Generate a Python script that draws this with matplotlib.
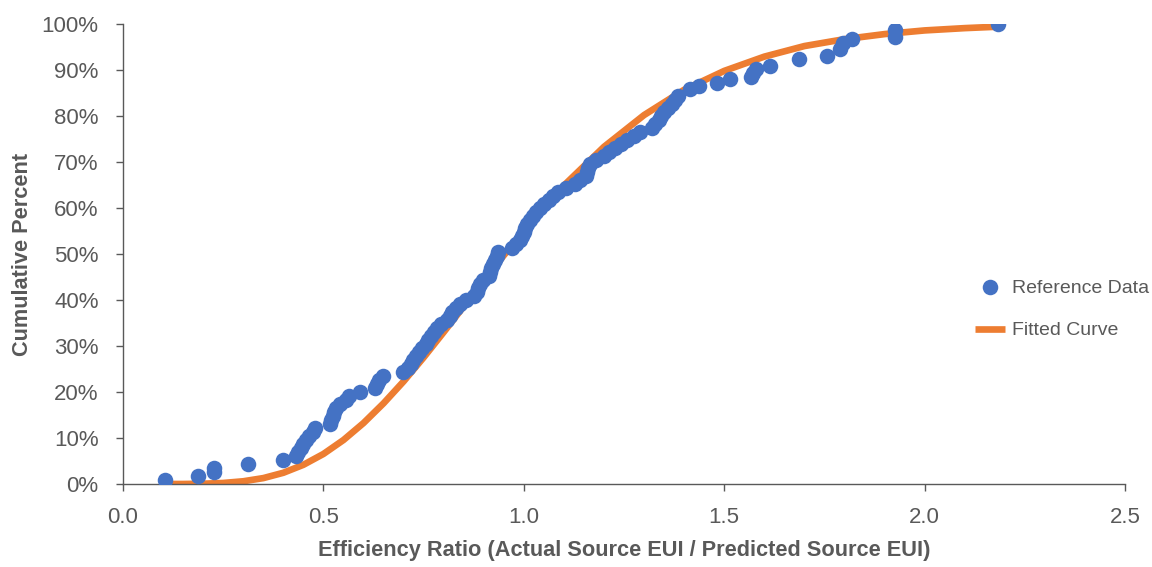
import numpy as np
import matplotlib
matplotlib.use('Agg')
import matplotlib.pyplot as plt
from matplotlib.ticker import FuncFormatter

# Reference data (efficiency ratio, cumulative percent)
ref_ratio = [0.105, 0.187, 0.227, 0.227, 0.312, 0.399, 0.432, 0.437, 0.444, 0.449,
             0.457, 0.464, 0.474, 0.479, 0.517, 0.519, 0.524, 0.527, 0.532, 0.542,
             0.557, 0.564, 0.592, 0.629, 0.634, 0.639, 0.649, 0.699, 0.711, 0.719,
             0.724, 0.731, 0.739, 0.746, 0.756, 0.761, 0.769, 0.776, 0.784, 0.794,
             0.809, 0.816, 0.821, 0.831, 0.841, 0.856, 0.876, 0.884, 0.886, 0.891,
             0.899, 0.914, 0.916, 0.919, 0.924, 0.929, 0.934, 0.936, 0.971, 0.981,
             0.991, 0.996, 1.001, 1.003, 1.008, 1.016, 1.023, 1.031, 1.041, 1.051,
             1.063, 1.073, 1.086, 1.106, 1.128, 1.141, 1.156, 1.158, 1.161, 1.166,
             1.181, 1.201, 1.213, 1.228, 1.243, 1.258, 1.276, 1.291, 1.321, 1.328,
             1.336, 1.343, 1.350, 1.360, 1.370, 1.378, 1.385, 1.415, 1.438, 1.483,
             1.515, 1.568, 1.573, 1.580, 1.615, 1.687, 1.757, 1.790, 1.797, 1.820,
             1.927, 1.927, 2.182]
ref_cum = [0.87, 1.74, 2.61, 3.48, 4.35, 5.22, 6.09, 6.96, 7.83, 8.70,
           9.57, 10.43, 11.30, 12.17, 13.04, 13.91, 14.78, 15.65, 16.52, 17.39,
           18.26, 19.13, 20.00, 20.87, 21.74, 22.61, 23.48, 24.35, 25.22, 26.09,
           26.96, 27.83, 28.70, 29.57, 30.43, 31.30, 32.17, 33.04, 33.91, 34.78,
           35.65, 36.52, 37.39, 38.26, 39.13, 40.00, 40.87, 41.74, 42.61, 43.48,
           44.35, 45.22, 46.09, 46.96, 47.83, 48.70, 49.57, 50.43, 51.30, 52.17,
           53.04, 53.91, 54.78, 55.65, 56.52, 57.39, 58.26, 59.13, 60.00, 60.87,
           61.74, 62.61, 63.48, 64.35, 65.22, 66.09, 66.96, 67.83, 68.70, 69.57,
           70.43, 71.30, 72.17, 73.04, 73.91, 74.78, 75.65, 76.52, 77.39, 78.26,
           79.13, 80.00, 80.87, 81.74, 82.61, 83.48, 84.35, 85.87, 86.52, 87.17,
           88.04, 88.48, 89.35, 90.22, 90.87, 92.39, 93.04, 94.57, 95.87, 96.74,
           97.17, 98.70, 100.0]

# Fitted curve
fit_ratio = [0.10, 0.15, 0.20, 0.25, 0.30, 0.35, 0.40, 0.45, 0.50, 0.55, 0.60,
             0.65, 0.70, 0.75, 0.80, 0.85, 0.90, 0.95, 1.00, 1.10, 1.20, 1.30,
             1.40, 1.50, 1.60, 1.70, 1.80, 1.90, 2.00, 2.10, 2.18]
fit_cum = [0.0, 0.0, 0.06, 0.22, 0.59, 1.28, 2.44, 4.17, 6.53, 9.56, 13.25,
           17.54, 22.3, 27.5, 33.0, 38.6, 44.2, 49.7, 55.0, 64.9, 73.3, 80.2,
           85.7, 89.8, 92.9, 95.2, 96.7, 97.8, 98.6, 99.1, 99.4]

x_ticks = [0.0, 0.5, 1.0, 1.5, 2.0, 2.5]
y_ticks = [0, 10, 20, 30, 40, 50, 60, 70, 80, 90, 100]

plt.rcParams['font.family'] = ['Liberation Sans', 'DejaVu Sans']

fig = plt.figure(figsize=(11.52, 5.67), dpi=100)
ax = fig.add_axes([0.1068, 0.1464, 0.8698, 0.8113])

ax.plot(fit_ratio, fit_cum, color='#ED7D31', linewidth=4.8,
        solid_capstyle='butt', solid_joinstyle='round',
        label='Fitted Curve', zorder=2)
ax.scatter(ref_ratio, ref_cum, s=125, color='#4472C4', linewidths=0,
           label='Reference Data', zorder=3)

ax.set_xlim(0, 2.5)
ax.set_ylim(0, 100)
ax.set_xticks(x_ticks)
ax.set_yticks(y_ticks)
ax.xaxis.set_major_formatter(FuncFormatter(lambda v, p: f'{v:.1f}'))
ax.yaxis.set_major_formatter(FuncFormatter(lambda v, p: f'{v:.0f}%'))

for side in ['top', 'right']:
    ax.spines[side].set_visible(False)
for side in ['left', 'bottom']:
    ax.spines[side].set_color('#595959')
    ax.spines[side].set_linewidth(1.0)
ax.tick_params(axis='both', direction='out', length=5, width=1.0,
               color='#595959', labelcolor='#595959', labelsize=16)
ax.tick_params(axis='x', pad=11.5)
ax.tick_params(axis='y', pad=12.5)

ax.set_xlabel('Efficiency Ratio (Actual Source EUI / Predicted Source EUI)',
              fontsize=15.7, fontweight='bold', color='#595959', labelpad=9)
ax.set_ylabel('Cumulative Percent', fontsize=15.7, fontweight='bold',
              color='#595959', labelpad=6)

handles, labels = ax.get_legend_handles_labels()
ax.legend(handles[::-1], labels[::-1], loc='center left',
          bbox_to_anchor=(0.842, 0.380), frameon=False, fontsize=14,
          labelcolor='#595959', handlelength=1.55, handletextpad=0.4,
          labelspacing=1.3, borderaxespad=0)

fig.savefig('out.png', dpi=100, facecolor='white')
